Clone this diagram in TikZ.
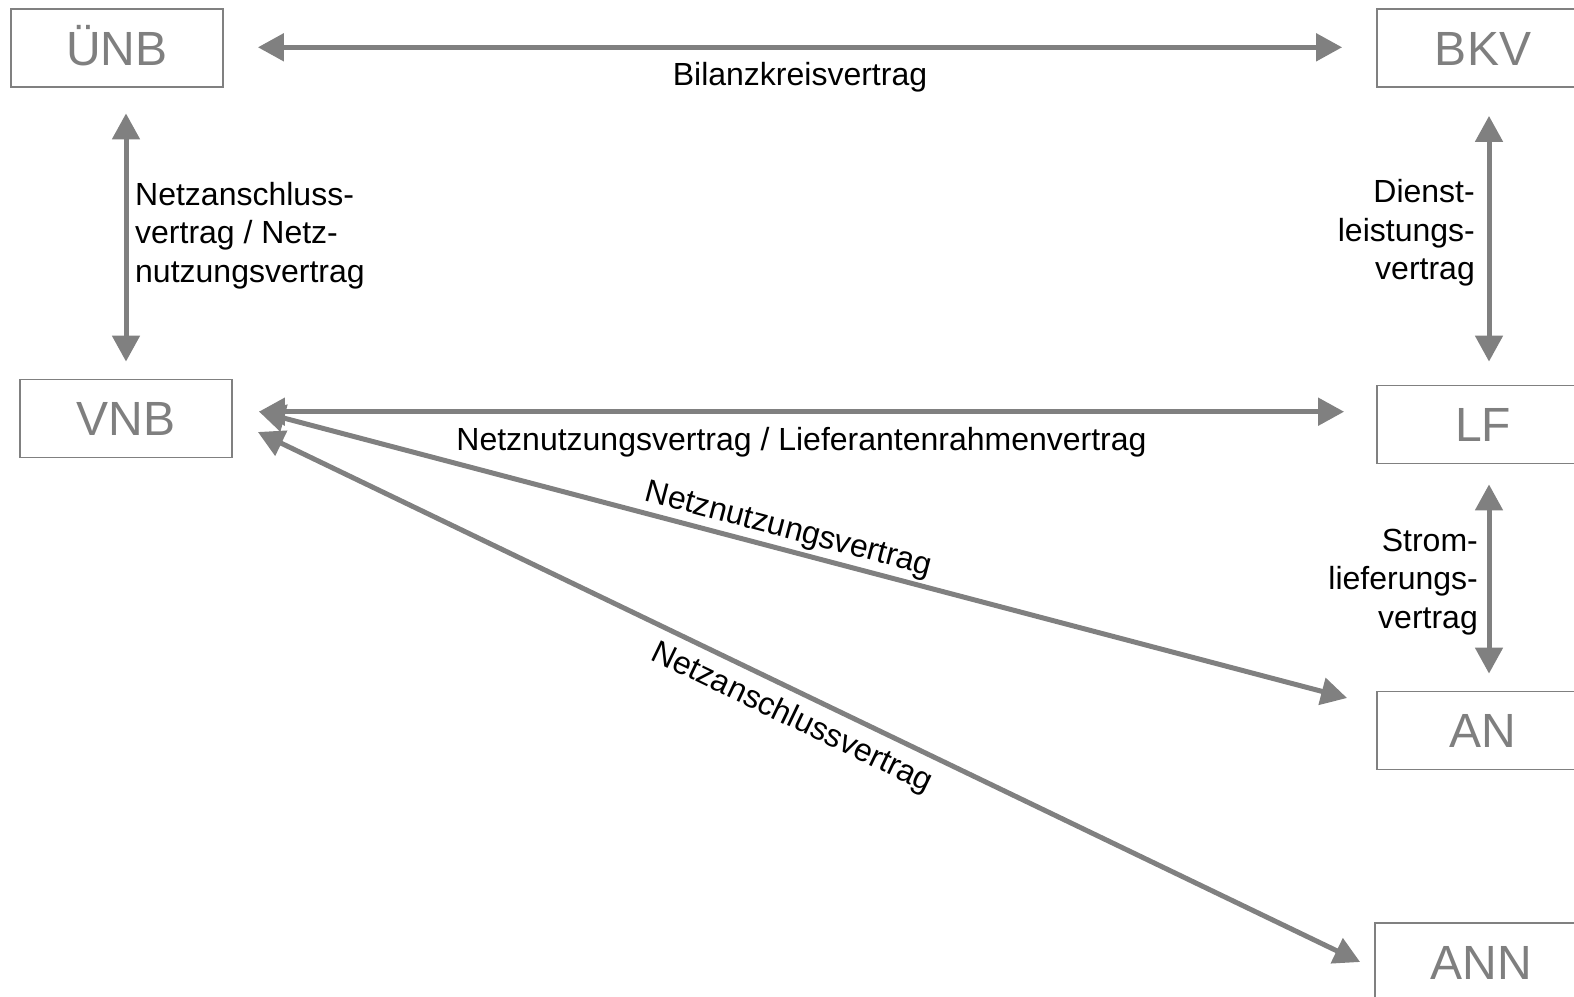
\documentclass[tikz,border=0pt]{standalone}
\usepackage{fontspec}
\setmainfont{Liberation Sans}
\usetikzlibrary{arrows.meta,calc}
\definecolor{linegray}{HTML}{808080}
\definecolor{boxgray}{HTML}{7F7F7F}
\tikzset{
  party/.style={draw=linegray, line width=1.8pt, text=boxgray,
    minimum width=212pt, minimum height=78pt, inner sep=0pt,
    text height=34pt, text depth=0pt, font=\fontsize{48}{56}\selectfont},
  contract/.style={draw=linegray, line width=5pt,
    {Triangle[length=26pt,width=27pt]}-{Triangle[length=26pt,width=27pt]}},
  lbl/.style={text=black, inner sep=0pt, font=\fontsize{32}{38.5}\selectfont},
}
\begin{document}
\begin{tikzpicture}[x=1pt, y=-1pt]
  \useasboundingbox (0,0) rectangle (1574,996);
  \clip (0,0) rectangle (1574,996);

  % market roles
  \node[party] (unb) at (117,48)    {ÜNB};
  \node[party] (bkv) at (1483,48)   {BKV};
  \node[party] (vnb) at (126,418.5) {VNB};
  \node[party] (lf)  at (1483,424.5){LF};
  \node[party] (an)  at (1483,730.5){AN};
  \node[party] (ann) at (1481,962)  {ANN};

  % contracts
  \draw[contract] ($(unb.east)+(34,-0.7)$) --
    node[lbl, pos=0.5, anchor=base, yshift=-38pt] (bkvtxt) {Bilanzkreisvertrag}
    ($(bkv.west)+(-34,-0.7)$);

  \draw[contract] ($(unb.south)+(9,25.5)$) -- ($(vnb.north)+(0,-17)$);
  \node[lbl, anchor=north west, align=left] (natxt) at (135,182)
    {Netzanschluss-\\vertrag / Netz-\\nutzungsvertrag};

  \draw[contract] ($(bkv.south)+(6,28)$) -- ($(lf.north)+(6,-23)$);
  \node[lbl, anchor=north east, align=right] (dltxt) at (1475,179.5)
    {Dienst-\\leistungs-\\vertrag};

  \draw[contract] ($(vnb.east)+(26,-6.8)$) --
    node[lbl, pos=0.5, anchor=base, yshift=-39pt] (lrtxt)
      {Netznutzungsvertrag / Lieferantenrahmenvertrag}
    ($(lf.west)+(-32,-12.8)$);

  \draw[contract] ($(lf.south)+(6,20)$) -- ($(an.north)+(6,-17)$);
  \node[lbl, anchor=north east, align=right] (sltxt) at (1478,528.5)
    {Strom-\\lieferungs-\\vertrag};

  \draw[contract] ($(vnb.east)+(26,-7)$) --
    node[lbl, sloped, pos=0.482, anchor=base, yshift=12pt] (nntxt) {Netznutzungsvertrag}
    ($(an.west)+(-29,-32.5)$);

  \draw[contract] ($(vnb.east)+(25,13.5)$) --
    node[lbl, sloped, pos=0.495, anchor=base, yshift=-35pt] (natxt2) {Netzanschlussvertrag}
    ($(ann.west)+(-14,0)$);
\end{tikzpicture}
\end{document}
